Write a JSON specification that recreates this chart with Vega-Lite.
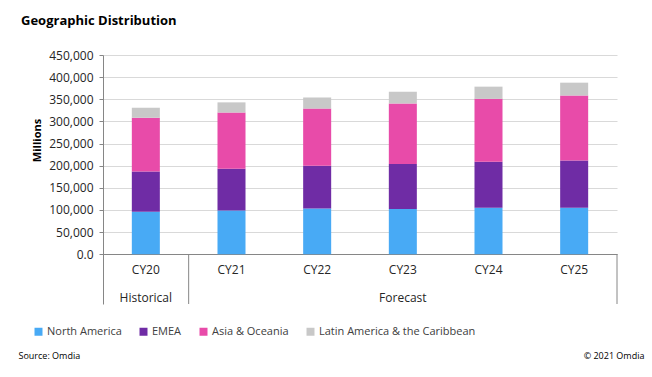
{
  "$schema": "https://vega.github.io/schema/vega-lite/v6.json",
  "autosize": "none",
  "width": 514,
  "height": 249,
  "padding": {"left": 103, "top": 55, "right": 35, "bottom": 73},
  "background": "white",
  "title": {
    "text": "Geographic Distribution",
    "anchor": "start",
    "frame": "group",
    "dx": -82,
    "dy": -17,
    "fontSize": 13,
    "fontWeight": "bold",
    "color": "#000000",
    "font": "Open Sans"
  },
  "config": {
    "font": "Open Sans",
    "view": {"stroke": null},
    "axisY": {
      "labelOverlap": false,
      "labelBound": false,
      "labelFlush": false,
      "grid": true,
      "gridColor": "#D9D9D9",
      "gridWidth": 1,
      "domainColor": "#868686",
      "tickColor": "#868686",
      "tickSize": 4,
      "labelPadding": 6,
      "labelFontSize": 12,
      "labelColor": "#262626",
      "titleFontSize": 11,
      "titleFontWeight": "bold",
      "titleColor": "#000000",
      "titleX": -66,
      "titleY": 85,
      "titleAlign": "center",
      "titleBaseline": "middle"
    }
  },
  "datasets": {
    "sales": [
      {"year": "CY20", "region": "North America", "k": 1, "value": 96000},
      {"year": "CY20", "region": "EMEA", "k": 2, "value": 91000},
      {"year": "CY20", "region": "Asia & Oceania", "k": 3, "value": 121000},
      {"year": "CY20", "region": "Latin America & the Caribbean", "k": 4, "value": 23000},
      {"year": "CY21", "region": "North America", "k": 1, "value": 98500},
      {"year": "CY21", "region": "EMEA", "k": 2, "value": 94500},
      {"year": "CY21", "region": "Asia & Oceania", "k": 3, "value": 127000},
      {"year": "CY21", "region": "Latin America & the Caribbean", "k": 4, "value": 23000},
      {"year": "CY22", "region": "North America", "k": 1, "value": 103000},
      {"year": "CY22", "region": "EMEA", "k": 2, "value": 97000},
      {"year": "CY22", "region": "Asia & Oceania", "k": 3, "value": 129000},
      {"year": "CY22", "region": "Latin America & the Caribbean", "k": 4, "value": 25000},
      {"year": "CY23", "region": "North America", "k": 1, "value": 102000},
      {"year": "CY23", "region": "EMEA", "k": 2, "value": 102000},
      {"year": "CY23", "region": "Asia & Oceania", "k": 3, "value": 136500},
      {"year": "CY23", "region": "Latin America & the Caribbean", "k": 4, "value": 26500},
      {"year": "CY24", "region": "North America", "k": 1, "value": 105000},
      {"year": "CY24", "region": "EMEA", "k": 2, "value": 104000},
      {"year": "CY24", "region": "Asia & Oceania", "k": 3, "value": 142000},
      {"year": "CY24", "region": "Latin America & the Caribbean", "k": 4, "value": 27500},
      {"year": "CY25", "region": "North America", "k": 1, "value": 105000},
      {"year": "CY25", "region": "EMEA", "k": 2, "value": 106500},
      {"year": "CY25", "region": "Asia & Oceania", "k": 3, "value": 147000},
      {"year": "CY25", "region": "Latin America & the Caribbean", "k": 4, "value": 29000}
    ],
    "groups": [
      {"year": "CY20", "label": "Historical"},
      {"year": "CY23", "label": "Forecast"}
    ],
    "seps": [
      {"year": "CY20"},
      {"year": "CY25"}
    ]
  },
  "layer": [
    {
      "data": {"name": "sales"},
      "mark": {"type": "bar", "width": {"band": 0.327}},
      "encoding": {
        "x": {
          "field": "year",
          "type": "nominal",
          "scale": {"type": "band", "paddingInner": 0, "paddingOuter": 0},
          "axis": {
            "orient": "bottom",
            "offset": -50,
            "ticks": false,
            "labelAngle": 0,
            "labelPadding": 10,
            "labelFontSize": 12,
            "labelColor": "#262626",
            "domainColor": "#868686",
            "domainWidth": 1,
            "title": "Source: Omdia",
            "titleX": -85,
            "titleY": 101,
            "titleAlign": "left",
            "titleBaseline": "middle",
            "titleFontSize": 9,
            "titleFontWeight": "normal",
            "titleColor": "#000000"
          }
        },
        "y": {
          "field": "value",
          "type": "quantitative",
          "stack": "zero",
          "scale": {"domain": [-112500, 450000], "nice": false, "zero": false},
          "axis": {
            "values": [0, 50000, 100000, 150000, 200000, 250000, 300000, 350000, 400000, 450000],
            "labelExpr": "datum.value == 0 ? '0.0' : format(datum.value, ',')",
            "title": "Millions"
          }
        },
        "color": {
          "field": "region",
          "type": "nominal",
          "scale": {
            "domain": ["North America", "EMEA", "Asia & Oceania", "Latin America & the Caribbean"],
            "range": ["#48AAF5", "#6F2CA5", "#E84BA9", "#C8C8C8"]
          },
          "legend": {
            "orient": "none",
            "legendX": -70,
            "legendY": 271,
            "direction": "horizontal",
            "title": null,
            "symbolType": "square",
            "symbolSize": 64,
            "symbolStrokeWidth": 0,
            "labelOffset": 3,
            "columnPadding": 16,
            "labelFontSize": 11,
            "labelColor": "#404040"
          }
        },
        "order": {"field": "k", "type": "quantitative", "sort": "ascending"}
      }
    },
    {
      "data": {"name": "seps"},
      "mark": {"type": "rule", "color": "#868686", "strokeWidth": 1},
      "encoding": {
        "x": {"field": "year", "type": "nominal", "bandPosition": 1, "axis": null},
        "y": {
          "datum": 0,
          "axis": {
            "values": [0, 50000, 100000, 150000, 200000, 250000, 300000, 350000, 400000, 450000],
            "labelExpr": "datum.value == 0 ? '0.0' : format(datum.value, ',')",
            "title": "Millions"
          }
        },
        "y2": {"datum": -112500}
      }
    },
    {
      "data": {"name": "groups"},
      "mark": {"type": "text", "fontSize": 12, "color": "#262626", "baseline": "middle"},
      "encoding": {
        "x": {
          "field": "year",
          "type": "nominal",
          "axis": {
            "orient": "bottom",
            "labels": false,
            "ticks": false,
            "domain": false,
            "title": "© 2021 Omdia",
            "titleX": 541,
            "titleY": 51,
            "titleAlign": "right",
            "titleBaseline": "middle",
            "titleFontSize": 9,
            "titleFontWeight": "normal",
            "titleColor": "#000000"
          }
        },
        "y": {
          "datum": -98000,
          "axis": {
            "values": [0, 50000, 100000, 150000, 200000, 250000, 300000, 350000, 400000, 450000],
            "labelExpr": "datum.value == 0 ? '0.0' : format(datum.value, ',')",
            "title": "Millions"
          }
        },
        "text": {"field": "label"}
      }
    }
  ],
  "resolve": {"axis": {"x": "independent"}}
}
